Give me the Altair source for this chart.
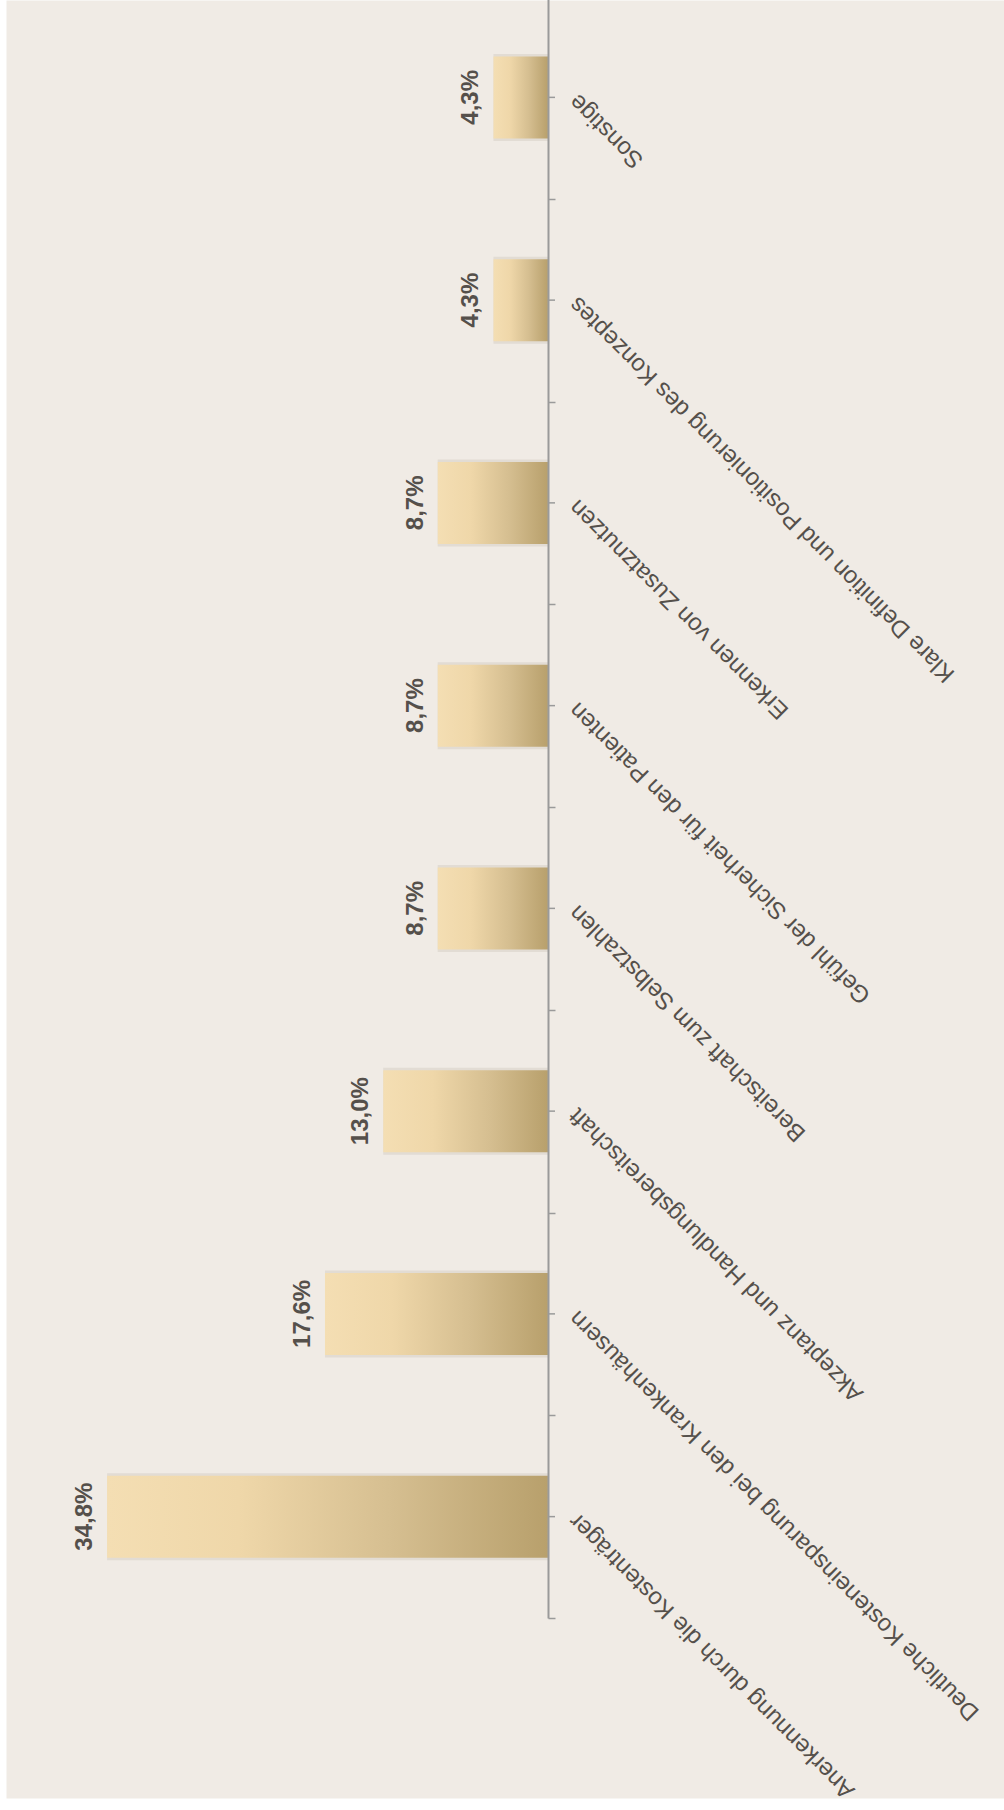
import altair as alt
import pandas as pd

categories = [
    "Sonstige",
    "Klare Definition und Positionierung des Konzeptes",
    "Erkennen von Zusatznutzen",
    "Gefühl der Sicherheit für den Patienten",
    "Bereitschaft zum Selbstzahlen",
    "Akzeptanz und Handlungsbereitschaft",
    "Deutliche Kosteneinsparung bei den Krankenhäusern",
    "Anerkennung durch die Kostenträger",
]
values = [4.3, 4.3, 8.7, 8.7, 8.7, 13.0, 17.6, 34.8]
value_labels = ["4,3%", "4,3%", "8,7%", "8,7%", "8,7%", "13,0%", "17,6%", "34,8%"]

df = pd.DataFrame({"cat": categories, "val": values, "lab": value_labels})

W, H = 998, 1798
ZERO_PX = 542
AXIS_GREY = "#9A9A9A"
TEXT_COL = "#55504B"

x_scale = alt.Scale(domain=[-36.0, 42.78], reverse=True, nice=False, zero=False)
y_scale = alt.Scale(domain=categories, range=[-4, 1618], paddingInner=0, paddingOuter=0)

y_axis = alt.Axis(
    orient="right", offset=-(W - ZERO_PX), title=None, tickBand="extent",
    tickSize=7, tickWidth=1.5, tickColor=AXIS_GREY, domainColor=AXIS_GREY,
    domainWidth=2, labelAngle=225, labelAlign="right", labelBaseline="middle",
    labelPadding=18, labelFontSize=24, labelFont="Liberation Sans",
    labelColor=TEXT_COL, labelLimit=1000, labelOverlap=False, labelBound=False,
    grid=False, zindex=1,
)
Y = alt.Y("cat:N", scale=y_scale, axis=y_axis, sort=categories)
X = alt.X("val:Q", scale=x_scale, axis=None)

grad = alt.Gradient(
    gradient="linear",
    stops=[
        alt.GradientStop(color="#F4DEB3", offset=0),
        alt.GradientStop(color="#EFD7A9", offset=0.3),
        alt.GradientStop(color="#D5BE90", offset=0.65),
        alt.GradientStop(color="#B8A06C", offset=1),
    ],
    x1=0, x2=1, y1=0, y2=0,
)

base = alt.Chart(df)

shadow = base.mark_bar(size=87, color="#D3CDC4", opacity=0.5).encode(
    x=X, x2=alt.datum(0), y=Y
)
bars = base.mark_bar(size=82, color=grad).encode(x=X, x2=alt.datum(0), y=Y)
center_ticks = base.mark_rule(color=AXIS_GREY, strokeWidth=1.5).encode(
    y=Y, x=alt.value(ZERO_PX), x2=alt.value(ZERO_PX + 7)
)
texts = base.mark_text(
    angle=270, align="center", baseline="alphabetic", dy=-15,
    font="Liberation Sans", fontSize=24, fontWeight="bold", color=TEXT_COL,
).encode(x=X, y=Y, text="lab:N")

chart = alt.layer(shadow, bars, center_ticks, texts).properties(
    width=W, height=H,
    autosize=alt.AutoSizeParams(type="none"),
    padding={"left": 6, "top": 0, "right": 0, "bottom": 12},
    background="#FFFFFF",
).configure_view(fill="#F0EBE5", stroke="transparent")

chart.save("out.html", embed_options={"renderer": "svg", "actions": False})
